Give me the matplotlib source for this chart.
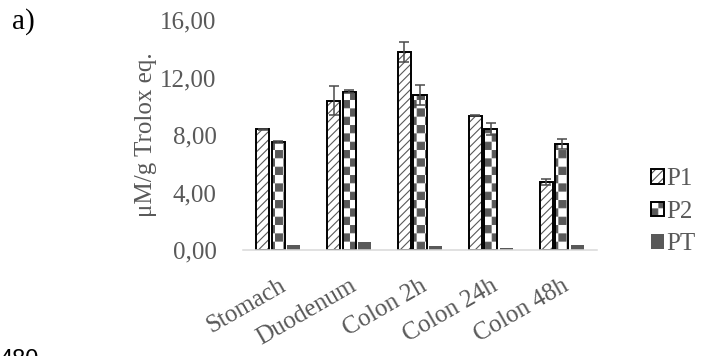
import warnings
import numpy as np
import matplotlib
matplotlib.use("Agg")
import matplotlib.pyplot as plt
import matplotlib.hatch as mhatch
from matplotlib.path import Path
from matplotlib.ticker import FuncFormatter

warnings.filterwarnings("ignore")

# data
categories = ["Stomach", "Duodenum", "Colon 2h", "Colon 24h", "Colon 48h"]
p1 = [8.40, 10.40, 13.80, 9.35, 4.75]
p2 = [7.50, 11.00, 10.80, 8.40, 7.35]
pt = [0.35, 0.55, 0.30, 0.15, 0.35]
p1_err = [0.05, 1.00, 0.70, 0.05, 0.20]
p2_err = [0.05, 0.10, 0.70, 0.40, 0.35]


# checkerboard hatch ("#") for the P2 bars
class CheckerHatch(mhatch.HatchPatternBase):
    filled = True

    def __init__(self, hatch, density):
        self.n = 12 if "#" in hatch else 0
        self.num_vertices = (self.n * self.n // 2) * 5

    def set_vertices_and_codes(self, vertices, codes):
        step = 1.0 / self.n
        inset = 0.006
        k = 0
        for i in range(self.n):
            for j in range(self.n):
                if (i + j) % 2:
                    continue
                x0, y0 = i * step + inset, j * step + inset
                x1, y1 = (i + 1) * step - inset, (j + 1) * step - inset
                vertices[k:k + 5] = [(x0, y0), (x1, y0), (x1, y1), (x0, y1), (x0, y0)]
                codes[k:k + 5] = [Path.MOVETO, Path.LINETO, Path.LINETO,
                                  Path.LINETO, Path.CLOSEPOLY]
                k += 5


mhatch._hatch_types.append(CheckerHatch)

plt.rcParams["font.family"] = ["Liberation Serif", "DejaVu Serif"]
plt.rcParams["hatch.linewidth"] = 0.8

gray = "#595959"
fs = 18

fig = plt.figure(figsize=(7.07, 3.56), dpi=100)
ax = fig.add_axes([243 / 707, 1 - 250 / 356, 354 / 707, 230 / 356])

x = np.arange(len(categories))
w = 0.184
off = 0.22

h1 = ax.bar(x - off, p1, w, color="white", edgecolor=gray, hatch="////", linewidth=0)
o1 = ax.bar(x - off, p1, w, fill=False, edgecolor="black", linewidth=1.4)
h2 = ax.bar(x, p2, w, color="white", edgecolor=gray, hatch="#", linewidth=0)
o2 = ax.bar(x, p2, w, fill=False, edgecolor="black", linewidth=1.4)
h3 = ax.bar(x + off, pt, w, color=gray, linewidth=0)

for xs, vals, errs in [(x - off, p1, p1_err), (x, p2, p2_err)]:
    ax.errorbar(xs, vals, yerr=errs, fmt="none", ecolor="#4a4a4a",
                elinewidth=1.1, capsize=3.6, capthick=1.1, zorder=5)

ax.set_xlim(-0.5, len(categories) - 0.5)
ax.set_ylim(0, 16)
ax.set_yticks(np.arange(0, 16.1, 4))
ax.yaxis.set_major_formatter(FuncFormatter(lambda v, p: f"{v:.2f}".replace(".", ",")))
ax.set_xticks(x)
ax.set_xticklabels(categories, rotation=30, ha="right", va="top",
                   rotation_mode="anchor")
ax.tick_params(axis="both", length=0, labelsize=fs, labelcolor=gray)
ax.tick_params(axis="y", pad=19)
ax.tick_params(axis="x", pad=18)

for s in ["top", "right", "left"]:
    ax.spines[s].set_visible(False)
ax.spines["bottom"].set_color("#d9d9d9")
ax.spines["bottom"].set_linewidth(1.1)

ax.set_ylabel("μM/g Trolox eq.", fontsize=fs, color=gray)
ax.yaxis.set_label_coords(-0.243, 0.5)

fig.legend([(h1[0], o1[0]), (h2[0], o2[0]), h3[0]], ["P1", "P2", "PT"],
           loc="center left", bbox_to_anchor=(0.921, 0.405), frameon=False,
           fontsize=fs, labelcolor=gray, handlelength=0.5, handleheight=0.5,
           handletextpad=0.1, labelspacing=0.42, borderpad=0, borderaxespad=0)

fig.text(12 / 707, 1 - 29 / 356, "a)", fontsize=21, color="black", va="baseline")
fig.text(0, 1 - 349 / 356, "480", fontsize=17, color="black", va="top",
         family="Liberation Sans")

plt.savefig("out.png", dpi=100)
